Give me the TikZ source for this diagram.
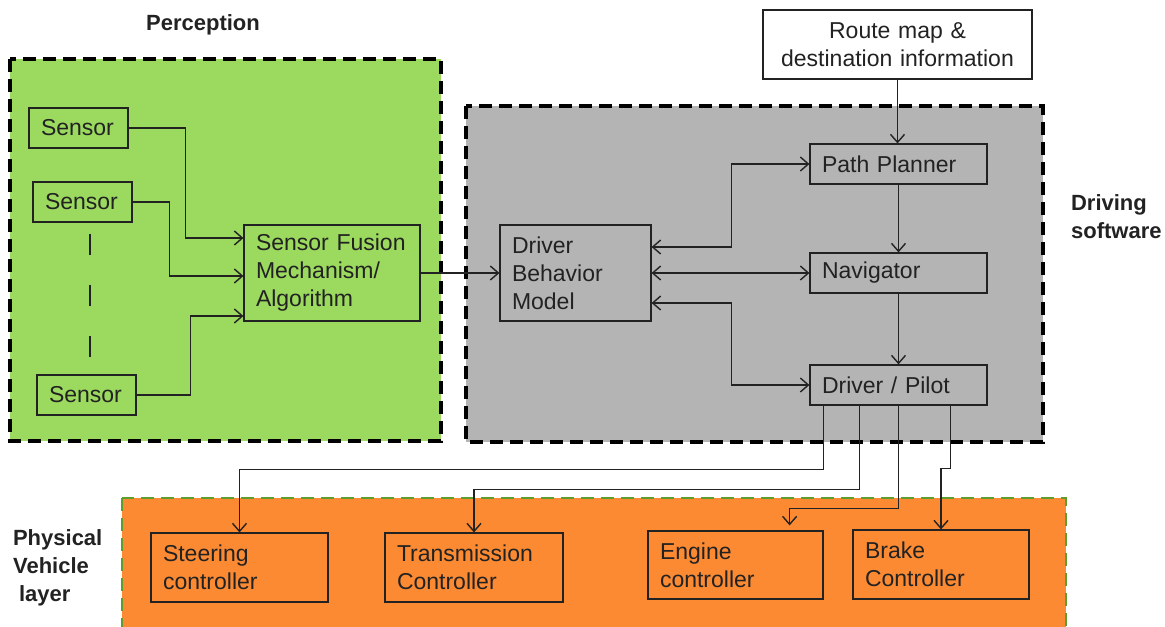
\documentclass[tikz,border=0pt]{standalone}
\usepackage{fontspec}
\setmainfont{Liberation Sans}
\usepackage{tikz}
\usetikzlibrary{arrows.meta,positioning,calc}
\definecolor{percGreen}{HTML}{9BD95F}
\definecolor{softGray}{HTML}{B4B4B4}
\definecolor{vehOrange}{HTML}{FB8A33}
\definecolor{vehBorder}{HTML}{5E9E2F}
\definecolor{inkDark}{HTML}{222222}

\begin{document}
\begin{tikzpicture}[x=0.5pt,y=-0.5pt,font=\fontsize{11.5}{14}\selectfont,
  >={Straight Barb[length=4pt,width=7pt]},
  box/.style={draw=inkDark,line width=0.6pt,inner xsep=6pt,inner ysep=0pt,align=left,text=inkDark},
  grp/.style={line width=1.7pt,dash pattern=on 6.5pt off 3.5pt},
  lbl/.style={font=\fontsize{11}{14}\selectfont\bfseries,text=inkDark},
  flow/.style={draw=inkDark,line width=0.7pt,->}]
\useasboundingbox (0,0) rectangle (1165,626);
\clip (0,0) rectangle (1165,626);
% layers
\draw[grp,fill=percGreen] (10,59) rectangle (441,441);
\draw[grp,fill=softGray] (466,106) rectangle (1043,442);
\draw[grp,draw=vehBorder,fill=vehOrange,line width=1.4pt] (122,498) rectangle (1066,640);
\node[lbl] (perc) at (203,25) {Perception};
\node[lbl,anchor=west,align=left] (drvsw) at (1064,217) {Driving\\software};
\node[lbl,anchor=west,align=left] (phys) at (6,568) {Physical\\Vehicle\\\hspace*{3pt}layer};
% perception
\node[box,text width=37.5pt,minimum height=20pt] (s1) at (78.5,128) {Sensor};
\node[box,text width=37.5pt,minimum height=20pt] (s2) at (82.5,202) {Sensor};
\node[box,text width=37.5pt,minimum height=20pt] (s3) at (86.5,395) {Sensor};
\node[box,text width=76pt,minimum height=48pt] (fusion) at (332,273) {Sensor Fusion\\Mechanism/\\Algorithm};
\draw[inkDark,line width=1pt,dash pattern=on 10.5pt off 15pt]
  ($(s2.south)+(7.5,11)$) -- ($(s3.north)+(3.5,-12)$);
% driving software
\node[box,text width=63.5pt,minimum height=48pt] (dbm) at (575.5,273) {Driver\\Behavior\\Model};
\node[box,fill=white,text width=122.5pt,minimum height=34.5pt,align=center] (route) at (897.5,44.5) {Route map \&\\destination information};
\node[box,text width=76.5pt,minimum height=20pt] (path) at (898.5,164) {Path Planner};
\node[box,text width=76.5pt,minimum height=20pt] (nav) at (898.5,273) {Navigator};
\node[box,text width=76.5pt,minimum height=20pt] (pilot) at (898.5,385) {Driver / Pilot};
% vehicle layer
\node[box,text width=76.5pt,minimum height=34.5pt] (steer) at (239.5,567.5) {Steering\\controller};
\node[box,text width=77pt,minimum height=34.5pt] (trans) at (474,567.5) {Transmission\\Controller};
\node[box,text width=75.5pt,minimum height=34pt] (engine) at (735.5,565) {Engine\\controller};
\node[box,text width=76pt,minimum height=34.5pt] (brake) at (941,564.5) {Brake\\Controller};
% connectors
\draw[flow] (s1.east) -- ++(57,0) |- ($(fusion.west)+(0,-35)$);
\draw[flow] (s2.east) -- ++(37,0) |- ($(fusion.west)+(0,3)$);
\draw[flow] (s3.east) -- ++(54,0) |- ($(fusion.west)+(0,43)$);
\draw[flow] (fusion.east) -- (dbm.west);
\draw[flow] (route.south) -- (route.south |- path.north);
\draw[flow] (path.south) -- (nav.north);
\draw[flow] (nav.south) -- (pilot.north);
\draw[flow,<->] ($(dbm.east)+(0,-26)$) -- ++(80,0) |- (path.west);
\draw[flow,<->] (dbm.east) -- (nav.west);
\draw[flow,<->] ($(dbm.east)+(0,30)$) -- ++(80,0) |- (pilot.west);
\draw[flow] ($(pilot.south west)+(14,0)$) -- ++(0,64) -| (steer.north);
\draw[flow] ($(pilot.south west)+(50,0)$) -- ++(0,84) -| (trans.north);
\draw[flow] (pilot.south) -- ++(0,103) -| ($(engine.north east)+(-34,-5)$);
\draw[flow] ($(pilot.south east)+(-37,0)$) -- ++(0,63) -| (brake.north);
\end{tikzpicture}
\end{document}
